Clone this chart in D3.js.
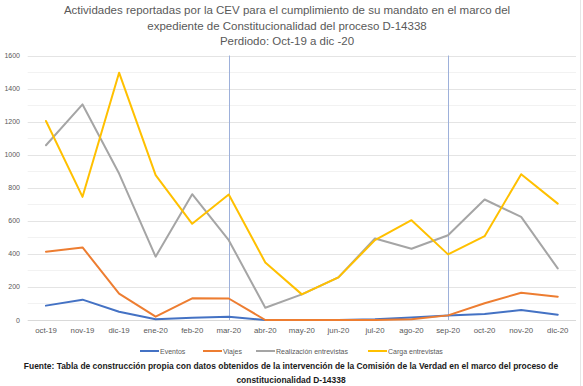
<!DOCTYPE html>
<html>
<head>
<meta charset="utf-8">
<script src="https://cdn.jsdelivr.net/npm/d3@7"></script>
<style>
  body { margin: 0; background: #fff; }
  text { font-family: "Liberation Sans", Arial, sans-serif; }
</style>
</head>
<body>
<div id="chart"></div>
<script>
const months = ["oct-19","nov-19","dic-19","ene-20","feb-20","mar-20","abr-20","may-20","jun-20","jul-20","ago-20","sep-20","oct-20","nov-20","dic-20"];
const eventos = [87, 123, 50, 4, 14, 20, 0, 0, 0, 4, 15, 27, 36, 60, 32];
const viajes = [413, 439, 160, 20, 131, 130, 0, 0, 0, 0, 5, 28, 101, 165, 141];
const realizacion = [1057, 1304, 886, 383, 761, 483, 74, 155, 258, 493, 431, 513, 729, 624, 312];
const carga = [1204, 745, 1496, 876, 582, 759, 348, 155, 258, 483, 604, 397, 507, 882, 704];
const yTicks = [0, 200, 400, 600, 800, 1000, 1200, 1400, 1600];
const markers = ["mar-20", "sep-20"];

const series = [
  {name: "Eventos", values: eventos, color: "#4472c4"},
  {name: "Viajes", values: viajes, color: "#ed7d31"},
  {name: "Realización entrevistas", values: realizacion, color: "#a5a5a5"},
  {name: "Carga entrevistas", values: carga, color: "#ffc000"}
];

const W = 583, H = 386;
const chart = {left: 27.7, right: 576, top: 55.5, bottom: 320};

const svg = d3.select("#chart").append("svg").attr("width", W).attr("height", H);

const x = d3.scaleBand().domain(months).range([chart.left, chart.right]);
const y = d3.scaleLinear().domain([0, 1600]).range([chart.bottom, chart.top]);
const cx = m => x(m) + x.bandwidth() / 2;

// frame edge
svg.append("line").attr("x1", 580.5).attr("x2", 580.5).attr("y1", 0).attr("y2", H)
  .attr("stroke", "#e6e6e6");

// title
const title = ["Actividades reportadas por la CEV para el cumplimiento de su mandato en el marco del",
  "expediente de Constitucionalidad del proceso D-14338",
  "Perdiodo: Oct-19 a dic -20"];
svg.append("g").selectAll("text").data(title).enter().append("text")
  .attr("x", 287).attr("y", (d, i) => 14 + i * 15.5)
  .attr("text-anchor", "middle").attr("fill", "#595959")
  .style("font-size", "11.5px").text(d => d);

// minor + major gridlines
svg.append("g").selectAll("line").data(d3.range(100, 1600, 200)).enter().append("line")
  .attr("x1", chart.left).attr("x2", chart.right)
  .attr("y1", d => Math.round(y(d)) + 0.5).attr("y2", d => Math.round(y(d)) + 0.5)
  .attr("stroke", "#f2f2f2");
svg.append("g").selectAll("line").data(yTicks).enter().append("line")
  .attr("x1", chart.left).attr("x2", chart.right)
  .attr("y1", d => Math.round(y(d)) + 0.5).attr("y2", d => Math.round(y(d)) + 0.5)
  .attr("stroke", d => d === 0 ? "#d9d9d9" : "#e4e4e4");

// y labels
svg.append("g").selectAll("text").data(yTicks).enter().append("text")
  .attr("x", 20).attr("y", d => y(d) + 2.5).attr("text-anchor", "end")
  .attr("fill", "#595959").style("font-size", "7px").text(d => d);

// x labels
const xAxis = d3.axisBottom(x).tickSize(0).tickPadding(7);
const xg = svg.append("g").attr("transform", "translate(0," + chart.bottom + ")").call(xAxis);
xg.select(".domain").remove();
xg.selectAll("text").attr("fill", "#595959").style("font-size", "7.8px")
  .style("font-family", "'Liberation Sans', Arial, sans-serif");

// vertical markers
svg.append("g").selectAll("line").data(markers).enter().append("line")
  .attr("x1", d => Math.round(cx(d)) + 0.5).attr("x2", d => Math.round(cx(d)) + 0.5)
  .attr("y1", chart.top).attr("y2", chart.bottom)
  .attr("stroke", "#9db0da").attr("stroke-width", 1);

// lines
const line = d3.line().x((d, i) => cx(months[i])).y(d => y(d));
svg.append("g").selectAll("path").data(series).enter().append("path")
  .attr("d", s => line(s.values)).attr("fill", "none")
  .attr("stroke", s => s.color).attr("stroke-width", 2)
  .attr("stroke-linejoin", "round").attr("stroke-linecap", "round");

// legend
const legendX = [140, 203, 256, 368];
const lg = svg.append("g").selectAll("g").data(series).enter().append("g")
  .attr("transform", (s, i) => "translate(" + legendX[i] + ",351)");
lg.append("line").attr("x1", 0).attr("x2", 19).attr("stroke", s => s.color).attr("stroke-width", 2);
lg.append("text").attr("x", 20).attr("y", 2.6).attr("fill", "#595959")
  .style("font-size", "7px").text(s => s.name);

// source
const source = ["Fuente: Tabla de construcción propia con datos obtenidos de la intervención de la Comisión de la Verdad en el marco del proceso de",
  "constitucionalidad D-14338"];
svg.append("g").selectAll("text").data(source).enter().append("text")
  .attr("x", 291).attr("y", (d, i) => 369 + i * 14)
  .attr("text-anchor", "middle").attr("fill", "#1a1a1a")
  .style("font-size", "8.45px").style("font-weight", "bold").text(d => d);
</script>
</body>
</html>
